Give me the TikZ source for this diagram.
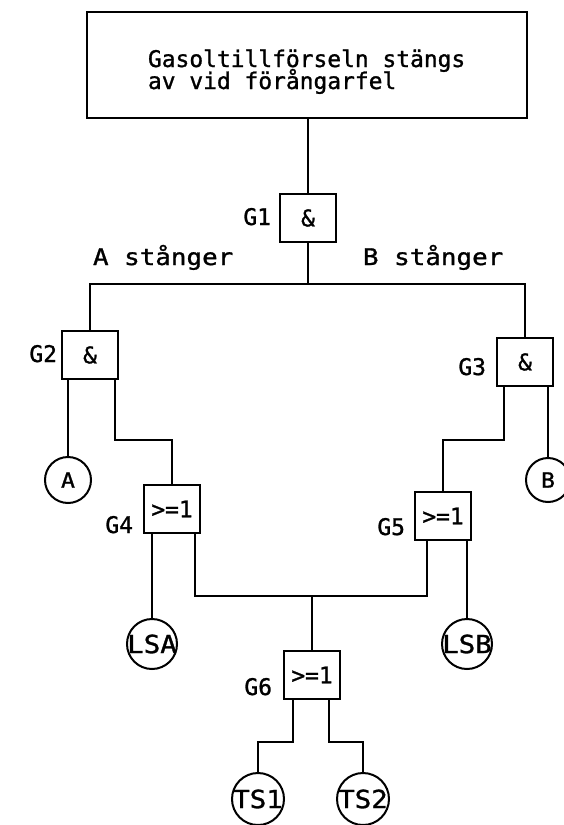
\documentclass[tikz,border=0pt]{standalone}
\usepackage{fontspec}
\newfontfamily\plotfont[FakeBold=1.2]{DejaVu Sans Mono}
\newfontfamily\plotwide[FakeStretch=1.13, FakeBold=1.2]{DejaVu Sans Mono}
\newfontfamily\plotevent[FakeStretch=1.1, FakeBold=1.2]{DejaVu Sans Mono}

\begin{document}
\begin{tikzpicture}[x=1bp, y=-1bp, line width=2bp,
  txt/.style={inner sep=0pt, font=\plotfont\fontsize{23}{23}\selectfont},
  widetxt/.style={inner sep=0pt, anchor=base west, font=\plotwide\fontsize{23}{23}\selectfont},
  gate/.style={draw, rectangle, minimum width=56bp, minimum height=48bp,
    inner sep=0pt, font=\plotfont\fontsize{23}{23}\selectfont},
  gname/.style={txt, anchor=base east},
  event/.style={draw, circle, inner sep=0pt, font=\plotevent\fontsize{25}{25}\selectfont},
  smallevent/.style={event, font=\plotevent\fontsize{21}{21}\selectfont}]

\useasboundingbox (0,0) rectangle (564,825);

% top event
\node[draw, rectangle, minimum width=440bp, minimum height=106bp, inner sep=0pt] (top) at (307,65) {};
\node[txt, anchor=base west] (title1) at (147,67) {Gasoltillförseln stängs};
\node[txt, anchor=base west] (title2) at (147,89) {av vid förångarfel};

% gates
\node[gate] (g1) at (308,218) {\&};
\node[gate] (g2) at (90,355) {\&};
\node[gate] (g3) at (525,362) {\&};
\node[gate] (g4) at (172,509) {>=1};
\node[gate] (g5) at (443,516) {>=1};
\node[gate] (g6) at (312,675) {>=1};

% gate names
\node[gname] (g1l) at (272,225) {G1};
\node[gname] (g2l) at (58,362) {G2};
\node[gname] (g3l) at (487,375) {G3};
\node[gname] (g4l) at (134,533) {G4};
\node[gname] (g5l) at (406,535) {G5};
\node[gname] (g6l) at (273,695) {G6};

% branch names
\node[widetxt] (astr) at (92,265) {A stånger};
\node[widetxt] (bstr) at (362,265) {B stånger};

% basic events
\node[smallevent, minimum size=46bp] (a) at (68,480) {A};
\node[smallevent, minimum size=44bp] (b) at (548,480) {B};
\node[event, minimum size=50bp] (lsa) at (152,644) {\makebox[0pt]{LSA}};
\node[event, minimum size=50bp] (lsb) at (467,644) {\makebox[0pt]{LSB}};
\node[event, minimum size=52bp] (ts1) at (258,799) {\makebox[0pt]{TS1}};
\node[event, minimum size=52bp] (ts2) at (363,799) {\makebox[0pt]{TS2}};

% junctions
\coordinate (bus) at (308,284);
\coordinate (jn) at (312,596);

% connectors
\draw (g1.north |- top.south) -- (g1.north);
\draw (g1.south) -- (bus);
\draw (g2.north) |- (bus) -| (g3.north);

\draw (a.north) -- (a |- g2.south);
\draw ([xshift=-4bp]g2.south east) -- ++(0,60) -| (g4.north);

\draw (b.north) -- (b |- g3.south);
\draw ([xshift=8bp]g3.south west) -- ++(0,53) -| (g5.north);

\draw (lsa.north) -- (lsa |- g4.south);
\draw ([xshift=-6bp]g4.south east) |- (jn) -| ([xshift=13bp]g5.south west);
\draw (lsb.north) -- (lsb |- g5.south);
\draw (jn) -- (g6.north);

\draw ([xshift=10bp]g6.south west) -- ++(0,42) -| (ts1.north);
\draw ([xshift=-12bp]g6.south east) -- ++(0,42) -| (ts2.north);

\end{tikzpicture}
\end{document}
